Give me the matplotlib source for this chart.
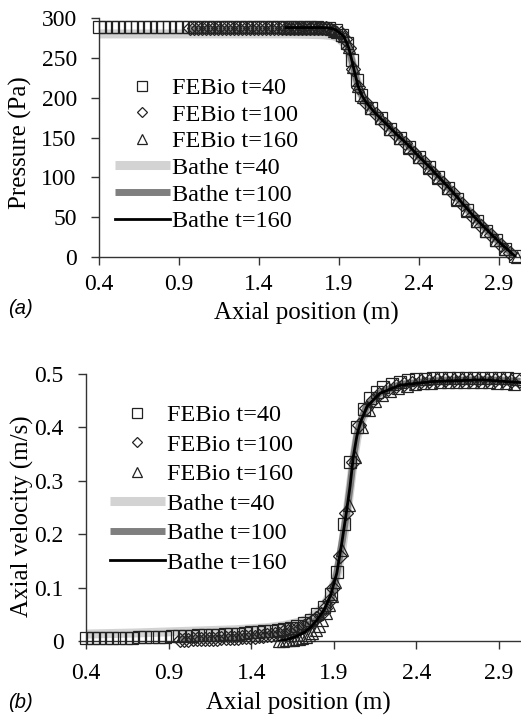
import matplotlib
matplotlib.use("Agg")
import matplotlib.pyplot as plt

plt.rcParams['font.family'] = ['Liberation Serif']

# ---- node positions (m) of the FEBio results, left part of the domain
x40 = [0.40, 0.44, 0.48, 0.52, 0.56, 0.60, 0.64, 0.68, 0.72, 0.76, 0.80, 0.84, 0.88,
       0.92, 0.96, 1.00, 1.04, 1.08, 1.12, 1.16, 1.20, 1.24, 1.28, 1.32, 1.36, 1.40,
       1.44, 1.48, 1.52, 1.56, 1.60, 1.64, 1.68, 1.72, 1.76, 1.80, 1.84, 1.88]
x100 = [0.97, 0.995, 1.02, 1.045, 1.07, 1.095, 1.12, 1.145, 1.17, 1.195, 1.22, 1.245,
        1.27, 1.295, 1.32, 1.345, 1.37, 1.395, 1.42, 1.445, 1.47, 1.495, 1.52, 1.545,
        1.57, 1.595, 1.62, 1.645, 1.67, 1.695, 1.72, 1.745, 1.77, 1.795, 1.82, 1.845, 1.87]
x160 = [1.57, 1.59, 1.61, 1.63, 1.65, 1.67, 1.69, 1.71, 1.73, 1.75, 1.77, 1.79, 1.81,
        1.83, 1.85, 1.87, 1.89]

# ---- pressure (Pa), FEBio
p40_left = [289, 289, 289, 289, 289, 289, 289, 289, 289, 289, 289, 289, 289, 289, 289,
            289, 289, 289, 289, 289, 289, 289, 289, 289, 289, 289, 289, 289, 289, 289,
            289, 289, 289, 289, 289, 288, 287, 285]
p100_left = [288, 288, 288, 288, 288, 288, 288, 288, 288, 288, 288, 288, 288, 288, 288,
             288, 288, 288, 288, 288, 288, 288, 288, 288, 288, 288, 288, 288, 288, 288,
             288, 288, 288, 288, 287, 286, 284]
p160_left = [288, 288, 288, 288, 288, 288, 288, 288, 288, 288, 288, 288, 288, 287, 286,
             284, 282]

pr_x40 = [1.92, 1.95, 1.98, 2.01, 2.04, 2.10, 2.16, 2.22, 2.28, 2.34, 2.40, 2.46, 2.52,
          2.58, 2.64, 2.70, 2.76, 2.82, 2.88, 2.94, 3.00]
p40_right = [279, 268, 247, 222, 203, 187, 174, 161, 149, 138, 125, 113, 100, 87, 73, 59,
             45, 33, 21, 10, 1]
pr_x100 = [1.91, 1.935, 1.96, 1.99, 2.02, 2.07, 2.13, 2.19, 2.25, 2.31, 2.37, 2.43, 2.49,
           2.55, 2.61, 2.67, 2.73, 2.79, 2.85, 2.91, 2.97]
p100_right = [281, 274, 262, 236, 213, 193, 180, 167, 155, 143, 131, 119, 106, 93, 80, 66,
              52, 39, 27, 15, 5]
pr_x160 = [1.93, 1.96, 1.99, 2.02, 2.05, 2.10, 2.16, 2.22, 2.28, 2.34, 2.40, 2.46, 2.52,
           2.58, 2.64, 2.70, 2.76, 2.82, 2.88, 2.94, 3.01]
p160_right = [277, 263, 238, 215, 201, 187, 174, 161, 149, 137, 125, 112, 99, 86, 72, 58,
              45, 33, 21, 10, 0]

# ---- pressure (Pa), Bathe
bp_x40 = [0.40, 1.00, 1.60, 1.80, 1.85, 1.88, 1.90, 1.93, 1.96, 1.98, 2.00, 2.02, 2.04,
          2.07, 2.12, 2.19, 2.26, 2.33, 2.40, 2.47, 2.53, 2.60, 2.66, 2.72, 2.78, 2.84,
          2.90, 2.95, 3.00]
bp40 = [280, 280, 280, 279, 278, 277, 274, 269, 259, 246, 230, 215, 204, 194, 182, 168,
        154, 141, 126, 112, 99, 84, 70, 56, 43, 31, 19, 10, 1]
bp_x100 = [0.97, 1.40, 1.80, 1.85, 1.88, 1.90, 1.93, 1.96, 1.98, 2.00, 2.02, 2.04, 2.07,
           2.12, 2.19, 2.26, 2.33, 2.40, 2.47, 2.53, 2.60, 2.66, 2.72, 2.78, 2.84, 2.90,
           2.95, 3.00]
bp100 = [286, 286, 286, 285, 283, 281, 276, 263, 247, 230, 214, 204, 194, 182, 168, 154,
         141, 126, 112, 99, 84, 70, 56, 43, 31, 19, 10, 1]
bp_x160 = [1.57, 1.80, 1.85, 1.88, 1.90, 1.93, 1.96, 1.98, 2.00, 2.02, 2.04, 2.07, 2.12,
           2.19, 2.26, 2.33, 2.40, 2.47, 2.53, 2.60, 2.66, 2.72, 2.78, 2.84, 2.90, 2.95, 3.00]
bp160 = [288, 288, 287, 285, 282, 277, 263, 247, 230, 214, 204, 194, 182, 168, 154, 141,
         126, 112, 99, 84, 70, 56, 43, 31, 19, 10, 1]

# ---- axial velocity (m/s), FEBio
v40_left = [0.005, 0.005, 0.005, 0.005, 0.006, 0.006, 0.006, 0.006, 0.007, 0.007, 0.007,
            0.008, 0.008, 0.009, 0.009, 0.010, 0.010, 0.011, 0.011, 0.012, 0.012, 0.013,
            0.014, 0.014, 0.015, 0.016, 0.017, 0.018, 0.019, 0.021, 0.023, 0.025, 0.028,
            0.033, 0.040, 0.050, 0.064, 0.088]
vr_x40 = [1.92, 1.96, 2.00, 2.04, 2.08, 2.12, 2.16, 2.20, 2.25, 2.30, 2.35, 2.40, 2.45,
          2.50, 2.55, 2.60, 2.65, 2.70, 2.75, 2.80, 2.85, 2.90, 2.95, 3.00]
v40_right = [0.13, 0.22, 0.335, 0.40, 0.435, 0.455, 0.467, 0.475, 0.481, 0.485, 0.488,
             0.490, 0.491, 0.492, 0.493, 0.493, 0.493, 0.493, 0.493, 0.493, 0.493, 0.492,
             0.492, 0.491]
v100_left = [0.002, 0.002, 0.002, 0.003, 0.003, 0.003, 0.003, 0.004, 0.004, 0.004, 0.005,
             0.005, 0.005, 0.006, 0.006, 0.007, 0.007, 0.008, 0.008, 0.009, 0.010, 0.011,
             0.012, 0.013, 0.014, 0.016, 0.018, 0.020, 0.022, 0.025, 0.028, 0.032, 0.037,
             0.043, 0.051, 0.061, 0.074]
vr_x100 = [1.895, 1.935, 1.975, 2.015, 2.055, 2.095, 2.135, 2.175, 2.225, 2.275, 2.325,
           2.375, 2.425, 2.475, 2.525, 2.575, 2.625, 2.675, 2.725, 2.775, 2.825, 2.875,
           2.925, 2.975, 3.02]
v100_right = [0.10, 0.16, 0.24, 0.335, 0.405, 0.437, 0.452, 0.463, 0.471, 0.477, 0.481,
              0.484, 0.486, 0.487, 0.488, 0.489, 0.489, 0.489, 0.489, 0.489, 0.489, 0.489,
              0.488, 0.487, 0.486]
v160_left = [0.000, 0.000, 0.001, 0.001, 0.002, 0.003, 0.004, 0.006, 0.008, 0.011, 0.015,
             0.021, 0.029, 0.040, 0.053, 0.068, 0.085]
vr_x160 = [1.91, 1.95, 1.99, 2.03, 2.07, 2.11, 2.15, 2.19, 2.24, 2.29, 2.34, 2.39, 2.44,
           2.49, 2.54, 2.59, 2.64, 2.69, 2.74, 2.79, 2.84, 2.89, 2.94, 2.99]
v160_right = [0.11, 0.17, 0.255, 0.345, 0.40, 0.432, 0.450, 0.461, 0.469, 0.474, 0.478,
              0.481, 0.483, 0.484, 0.485, 0.485, 0.485, 0.485, 0.485, 0.485, 0.485, 0.484,
              0.483, 0.482]

# ---- axial velocity (m/s), Bathe
bv_x40 = [0.40, 0.70, 1.00, 1.30, 1.50, 1.60, 1.70, 1.76, 1.80, 1.84, 1.88, 1.92, 1.95,
          1.98, 2.00, 2.02, 2.04, 2.06, 2.10, 2.15, 2.20, 2.30, 2.40, 2.50, 2.70, 2.90, 3.03]
bv40 = [0.013, 0.015, 0.018, 0.021, 0.025, 0.029, 0.036, 0.044, 0.053, 0.066, 0.088, 0.125,
        0.175, 0.24, 0.29, 0.34, 0.38, 0.405, 0.437, 0.455, 0.466, 0.479, 0.484, 0.487,
        0.489, 0.488, 0.485]
bv_x100 = [0.97, 1.20, 1.40, 1.55, 1.65, 1.72, 1.78, 1.82, 1.86, 1.89, 1.92, 1.95, 1.98,
           2.00, 2.02, 2.04, 2.06, 2.10, 2.18, 2.30, 2.50, 2.80, 3.03]
bv100 = [0.003, 0.005, 0.009, 0.013, 0.019, 0.026, 0.036, 0.046, 0.062, 0.085, 0.13, 0.185,
         0.245, 0.292, 0.345, 0.385, 0.41, 0.44, 0.465, 0.48, 0.487, 0.489, 0.486]
bv_x160 = [1.57, 1.62, 1.67, 1.72, 1.76, 1.80, 1.84, 1.88, 1.918, 1.948, 1.978, 1.998,
           2.018, 2.039, 2.059, 2.10, 2.18, 2.30, 2.50, 2.80, 3.03]
bv160 = [0.0, 0.003, 0.008, 0.016, 0.026, 0.040, 0.058, 0.085, 0.127, 0.183, 0.245, 0.289,
         0.345, 0.383, 0.408, 0.439, 0.464, 0.479, 0.486, 0.489, 0.484]

labels = ["FEBio t=40", "FEBio t=100", "FEBio t=160", "Bathe t=40", "Bathe t=100", "Bathe t=160"]
x_ticks = [0.4, 0.9, 1.4, 1.9, 2.4, 2.9]
x_tick_labels = ["0.4", "0.9", "1.4", "1.9", "2.4", "2.9"]
p_ticks = [0, 50, 100, 150, 200, 250, 300]
v_ticks = [0, 0.1, 0.2, 0.3, 0.4, 0.5]
v_tick_labels = ["0", "0.1", "0.2", "0.3", "0.4", "0.5"]

W, H = 521, 720
fig = plt.figure(figsize=(W / 100, H / 100), dpi=100)

def px_box(left, top, right, bottom):
    return [left / W, 1 - bottom / H, (right - left) / W, (bottom - top) / H]

ax1 = fig.add_axes(px_box(99, 18, 521, 257))
ax2 = fig.add_axes(px_box(86, 374, 521, 641))

EC = "#222222"
mk = dict(linestyle="none", markerfacecolor="none", markeredgecolor=EC,
          markeredgewidth=0.9, clip_on=False)

def draw(ax, fx, fy, bx, by):
    ax.plot(bx[0], by[0], color="#d3d3d3", lw=6.5, solid_capstyle="butt", label=labels[3], zorder=2)
    ax.plot(bx[1], by[1], color="#7f7f7f", lw=5, solid_capstyle="butt", label=labels[4], zorder=2)
    ax.plot(bx[2], by[2], color="black", lw=2, label=labels[5], zorder=4)
    h1, = ax.plot(fx[0], fy[0], marker="s", ms=9, zorder=3, **mk)
    h2, = ax.plot(fx[1], fy[1], marker="D", ms=7, zorder=3, **mk)
    h3, = ax.plot(fx[2], fy[2], marker="^", ms=9, zorder=3, **mk)
    h1.set_label(labels[0]); h2.set_label(labels[1]); h3.set_label(labels[2])

draw(ax1,
     [x40 + pr_x40, x100 + pr_x100, x160 + pr_x160],
     [p40_left + p40_right, p100_left + p100_right, p160_left + p160_right],
     [bp_x40, bp_x100, bp_x160], [bp40, bp100, bp160])
draw(ax2,
     [x40 + vr_x40, x100 + vr_x100, x160 + vr_x160],
     [v40_left + v40_right, v100_left + v100_right, v160_left + v160_right],
     [bv_x40, bv_x100, bv_x160], [bv40, bv100, bv160])

ax1.set_xlim(0.4, 3.0375)
ax1.set_ylim(0, 300)
ax2.set_xlim(0.4, 3.033)
ax2.set_ylim(0, 0.5)
ax1.set_yticks(p_ticks)
ax2.set_yticks(v_ticks, labels=v_tick_labels)

for ax in (ax1, ax2):
    ax.set_xticks(x_ticks, labels=x_tick_labels)
    for s in ("top", "right"):
        ax.spines[s].set_visible(False)
    for s in ("left", "bottom"):
        ax.spines[s].set_color("#333333")
        ax.spines[s].set_linewidth(1)
    ax.tick_params(direction="out", length=5.5, width=1, color="#333333", labelsize=17)
    ax.tick_params(axis="y", pad=10.5)
ax1.tick_params(axis="x", pad=7)
ax2.tick_params(axis="x", pad=10)

# legends: FEBio entries first, then Bathe
for ax, anchor, spacing in ((ax1, (115, 77), 0.19), (ax2, (110, 404), 0.31)):
    h, l = ax.get_legend_handles_labels()
    order = [l.index(s) for s in labels]
    ax.legend([h[i] for i in order], labels, loc="upper left", frameon=False,
              bbox_to_anchor=(anchor[0] / W, 1 - anchor[1] / H), bbox_transform=fig.transFigure,
              fontsize=17.5, handlelength=2.26, handletextpad=0.1, labelspacing=spacing,
              markerscale=0.78, borderpad=0, borderaxespad=0)

fig.text(20 / W, 1 - 143 / H, "Pressure (Pa)", rotation=90, ha="center", va="center", fontsize=18)
fig.text(306 / W, 1 - 313 / H, "Axial position (m)", ha="center", va="center", fontsize=18)
fig.text(22 / W, 1 - 516 / H, "Axial velocity (m/s)", rotation=90, ha="center", va="center", fontsize=18)
fig.text(298 / W, 1 - 703 / H, "Axial position (m)", ha="center", va="center", fontsize=18)
fig.text(8 / W, 1 - 309 / H, "(a)", family="Liberation Sans", style="italic", ha="left", va="center", fontsize=14.5)
fig.text(8 / W, 1 - 703 / H, "(b)", family="Liberation Sans", style="italic", ha="left", va="center", fontsize=14.5)

fig.savefig("out.png", dpi=100)
